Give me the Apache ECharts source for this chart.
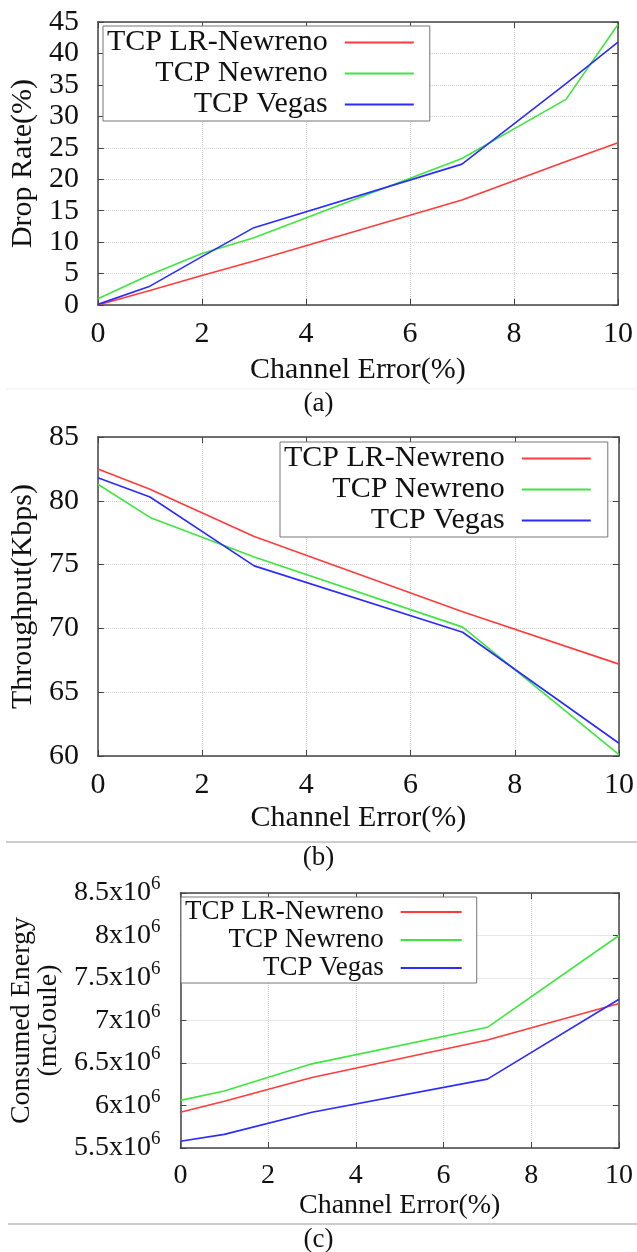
<!DOCTYPE html>
<html>
<head>
<meta charset="utf-8">
<script src="https://cdn.jsdelivr.net/npm/echarts@6/dist/echarts.min.js"></script>
<style>
  html, body { margin: 0; padding: 0; background: #fff; }
  #chart { width: 637px; height: 1252px; }
</style>
</head>
<body>
<div id="chart"></div>
<script>
// channel error (%) sample points
var errA = [0, 1, 2, 3, 7, 9, 10];
var errB = [0, 1, 3, 7, 10];
var errC = [0, 1, 3, 7, 10];

// (a) drop rate %
var dropLR = [0, 2.3, 4.7, 7.0, 16.7, 22.8, 25.8];
var dropNew = [1.0, 4.8, 8.2, 10.7, 23.3, 32.7, 44.6];
var dropVegas = [0.1, 3.0, 7.7, 12.3, 22.4, 35.2, 41.8];

// (b) throughput Kbps
var thrLR = [82.5, 80.9, 77.2, 71.3, 67.2];
var thrNew = [81.3, 78.7, 75.6, 70.1, 60.1];
var thrVegas = [81.8, 80.3, 74.9, 69.7, 61.0];

// (c) consumed energy mcJoule
var enLR = [5920000, 6050000, 6330000, 6770000, 7200000];
var enNew = [6060000, 6170000, 6490000, 6920000, 8000000];
var enVegas = [5580000, 5660000, 5920000, 6310000, 7250000];

var names = ["TCP LR-Newreno", "TCP Newreno", "TCP Vegas"];
var colors = ["#ff3b3b", "#3ee63e", "#2b2bff"];

var FONT = "Liberation Serif";
var INK = "#111";

function pairs(xs, ys) {
  return xs.map(function (x, i) { return [x, ys[i]]; });
}

var frame = { show: true, onZero: false, lineStyle: { color: "#444", width: 1.5 } };
var ticks = { inside: true, length: 6, lineStyle: { color: "#444" } };
var grids = { show: true, lineStyle: { type: "dotted", color: "#cfcfcf" } };

function xAxes(g, fs, gap) {
  return [
    {
      gridIndex: g, type: "value", min: 0, max: 10, interval: 2,
      name: "Channel Error(%)", nameLocation: "middle", nameGap: gap,
      nameTextStyle: { fontFamily: FONT, fontSize: fs, color: INK },
      axisLine: frame, axisTick: ticks, splitLine: grids,
      axisLabel: { margin: 14, fontFamily: FONT, fontSize: fs, color: INK }
    },
    {
      gridIndex: g, type: "value", position: "top", min: 0, max: 10, interval: 2,
      axisLine: frame, axisTick: ticks, splitLine: { show: false },
      axisLabel: { show: false }
    }
  ];
}

function yAxes(g, min, max, step, name, gap, fs, label) {
  return [
    {
      gridIndex: g, type: "value", min: min, max: max, interval: step,
      name: name, nameLocation: "middle", nameGap: gap,
      nameTextStyle: { fontFamily: FONT, fontSize: fs, color: INK, lineHeight: 27 },
      axisLine: frame, axisTick: ticks, splitLine: grids,
      axisLabel: label
    },
    {
      gridIndex: g, type: "value", position: "right", min: min, max: max, interval: step,
      axisLine: frame, axisTick: ticks, splitLine: { show: false },
      axisLabel: { show: false }
    }
  ];
}

function legendFor(left, top, size, rowH, lineW, pad) {
  return {
    data: names, orient: "vertical", align: "right",
    left: left, top: top,
    icon: "rect", itemWidth: lineW, itemHeight: 2, itemGap: 0,
    padding: pad,
    backgroundColor: "#fff", borderColor: "#777", borderWidth: 1,
    textStyle: { fontFamily: FONT, fontSize: size, color: INK, lineHeight: rowH, padding: [0, 12, 0, 0] }
  };
}

function lines(xs, sets, g) {
  return sets.map(function (ys, i) {
    return {
      name: names[i], type: "line", xAxisIndex: g * 2, yAxisIndex: g * 2,
      symbol: "none", data: pairs(xs, ys),
      lineStyle: { color: colors[i], width: 1.6 }, itemStyle: { color: colors[i] }
    };
  });
}

var plainLabel = { margin: 19, fontFamily: FONT, fontSize: 30, color: INK };
var energyLabel = {
  margin: 20, color: INK,
  formatter: function (v) { return "{b|" + (v / 1e6) + "x10}{s|6}"; },
  rich: {
    b: { fontFamily: FONT, fontSize: 28, color: INK, lineHeight: 36 },
    s: { fontFamily: FONT, fontSize: 19, color: INK, lineHeight: 20, verticalAlign: "top" }
  }
};

var captionStyle = { fontFamily: FONT, fontSize: 27, fontWeight: "normal", color: INK };

var myChart = echarts.init(document.getElementById("chart"));

var option = {
  backgroundColor: "#fff",
  animation: false,
  title: [
    { text: "(a)", left: "center", top: 390, padding: 0, textStyle: captionStyle },
    { text: "(b)", left: "center", top: 844, padding: 0, textStyle: captionStyle },
    { text: "(c)", left: "center", top: 1226, padding: 0, textStyle: captionStyle }
  ],
  grid: [
    { left: 87, top: 22, width: 531, height: 283 },
    { left: 95, top: 437, width: 526, height: 319 },
    { left: 166, top: 893, width: 453, height: 255 }
  ],
  xAxis: xAxes(0, 30, 50).concat(xAxes(1, 30, 47), xAxes(2, 28, 44)),
  yAxis: yAxes(0, 0, 45, 5, "Drop Rate(%)", 53, 30, plainLabel)
    .concat(
      yAxes(1, 60, 85, 5, "Throughput(Kbps)", 61, 30, plainLabel),
      yAxes(2, 5500000, 8500000, 500000, "Consumed Energy\n(mcJoule)", 103, 28, energyLabel)
    ),
  legend: [
    legendFor(103, 26, 30, 31, 69, [1, 16, 1, 4]),
    legendFor(280, 442, 30, 31, 69, [1, 17, 1, 4]),
    legendFor(181, 897, 27, 28, 61, [1, 15, 1, 4])
  ],
  graphic: [
    { type: "line", shape: { x1: 6, y1: 389, x2: 637, y2: 389 }, style: { stroke: "#eee", lineWidth: 1 } },
    { type: "line", shape: { x1: 6, y1: 842, x2: 637, y2: 842 }, style: { stroke: "#999", lineWidth: 1 } },
    { type: "line", shape: { x1: 8, y1: 1224, x2: 637, y2: 1224 }, style: { stroke: "#999", lineWidth: 1 } }
  ],
  series: lines(errA, [dropLR, dropNew, dropVegas], 0)
    .concat(
      lines(errB, [thrLR, thrNew, thrVegas], 1),
      lines(errC, [enLR, enNew, enVegas], 2)
    )
};

myChart.setOption(option);
window.onresize = function () {
  myChart.resize();
};
</script>
</body>
</html>
